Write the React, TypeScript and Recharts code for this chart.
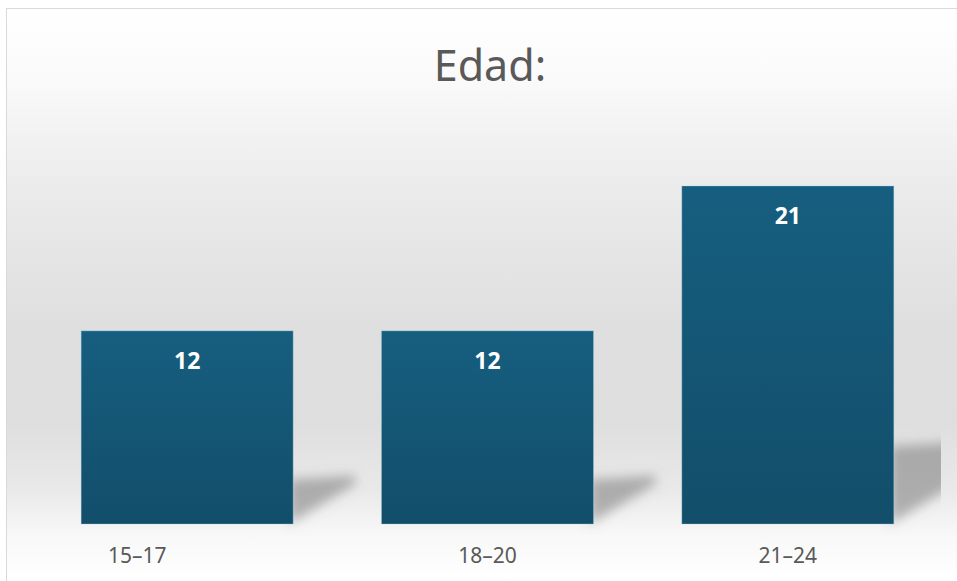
import { BarChart, Bar, XAxis, YAxis, LabelList } from 'recharts'

const categories = ['15–17', '18–20', '21–24']
const counts = [12, 12, 21]

const data = categories.map((label, i) => ({ label, total: counts[i] }))

const textColor = '#595959'

// bar with a soft skewed shadow falling to the back-right
const ShadowBar = (props: any) => {
  const { x, y, width, height, index } = props
  if (!height) return null
  const right = x + width
  const bottom = y + height
  const lift = height * 0.23
  const reach = 62
  const points = [
    [right - 4, bottom - lift],
    [right + reach, bottom - lift - 4],
    [right + reach, bottom - 40],
    [right - 4, bottom],
  ]
    .map(p => p.join(','))
    .join(' ')
  return (
    <g>
      <g clipPath="url(#plotClip)">
        <polygon points={points} fill="#7a7a7a" fillOpacity={0.55} filter="url(#shadowBlur)" key={`s${index}`} />
      </g>
      <rect x={x} y={y} width={width} height={height} fill="url(#barFill)" stroke="#a9cfe0" strokeOpacity={0.35} strokeWidth={1} />
    </g>
  )
}

const ValueLabel = (props: any) => {
  const { x, y, width, value } = props
  return (
    <text
      x={x + width / 2}
      y={y + 29}
      textAnchor="middle"
      dominantBaseline="central"
      fill="#ffffff"
      fontSize={23}
      fontWeight={700}
      fontFamily="'Noto Sans', sans-serif"
    >
      {value}
    </text>
  )
}

const CategoryTick = (props: any) => {
  const { x, y, payload, index } = props
  // the first label sits left of its bar in the original
  const shift = index === 0 ? -50 : 0
  return (
    <text
      x={x + shift}
      y={y + 23}
      textAnchor="middle"
      dominantBaseline="central"
      fill={textColor}
      fontSize={21}
      fontFamily="'Noto Sans', sans-serif"
    >
      {payload.value}
    </text>
  )
}

export default function App() {
  return (
    <div
      style={{
        position: 'absolute',
        left: 6,
        top: 8,
        width: 950,
        height: 572,
        border: '1px solid #d9d9d9',
        borderRight: 'none',
        borderBottom: 'none',
        background:
          'linear-gradient(to bottom, #ffffff 0%, #fafafa 12%, #ececec 30%, #dfdfdf 55%, #dedede 72%, #e9e9e9 84%, #f8f8f8 92%, #ffffff 100%)',
        fontFamily: "'Noto Sans', sans-serif",
        overflow: 'hidden',
      }}
    >
      <div
        style={{
          position: 'absolute',
          left: 0,
          width: 966,
          top: 28,
          textAlign: 'center',
          fontSize: 43,
          lineHeight: '56px',
          color: textColor,
        }}
      >
        Edad:
      </div>
      <BarChart
        width={950}
        height={572}
        data={data}
        margin={{ top: 177, right: 19, left: 30, bottom: 27 }}
        barCategoryGap="14.7%"
      >
        <defs>
          <linearGradient id="barFill" x1="0" y1="0" x2="0" y2="1">
            <stop offset="0%" stopColor="#165e7f" />
            <stop offset="100%" stopColor="#124e6a" />
          </linearGradient>
          <filter id="shadowBlur" x="-50%" y="-50%" width="200%" height="200%">
            <feGaussianBlur stdDeviation="6" />
          </filter>
          <clipPath id="plotClip">
            <rect x={0} y={0} width={934} height={572} />
          </clipPath>
        </defs>
        <XAxis dataKey="label" axisLine={false} tickLine={false} tick={<CategoryTick />} interval={0} height={30} />
        <YAxis hide domain={[0, 21]} />
        <Bar dataKey="total" shape={<ShadowBar />} isAnimationActive={false}>
          <LabelList dataKey="total" content={<ValueLabel />} />
        </Bar>
      </BarChart>
    </div>
  )
}
